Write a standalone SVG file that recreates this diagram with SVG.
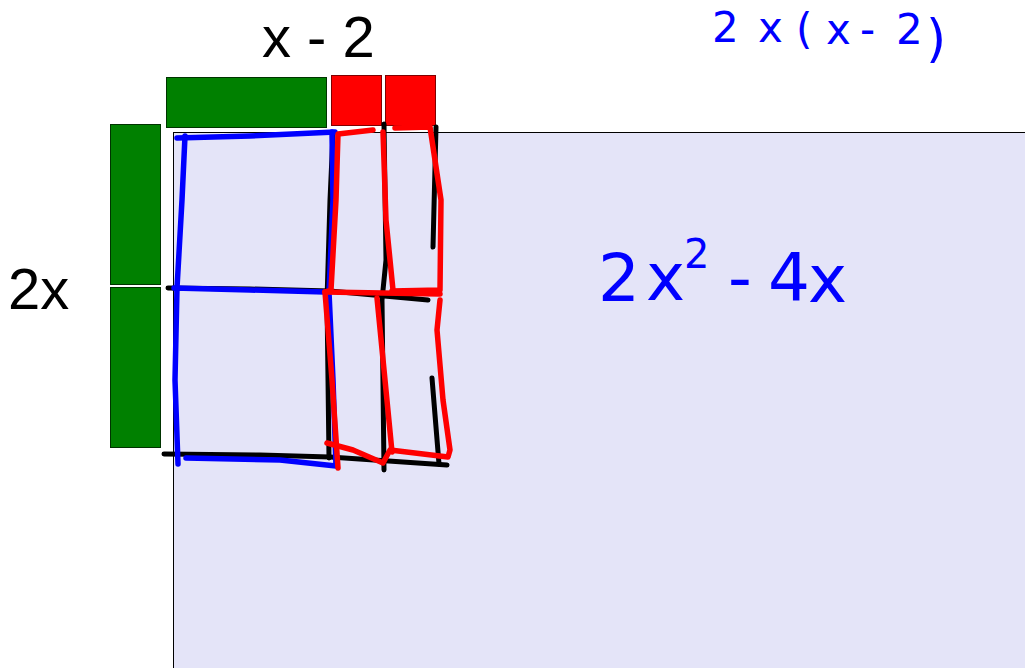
<svg xmlns="http://www.w3.org/2000/svg" width="1025" height="668" viewBox="0 0 1025 668">
<style>
.lbl{font-family:"Liberation Sans",Arial,sans-serif;fill:#000}
.ink{fill:none;stroke-linecap:round;stroke-linejoin:round}
.k{stroke:#000;stroke-width:5}
.b{stroke:#0000ff;stroke-width:5.5}
.r{stroke:#ff0000;stroke-width:5.5}
.hw{font-family:"DejaVu Sans","Liberation Sans",sans-serif;fill:#0000ff}
.g{fill:#008000;stroke:#003300;stroke-width:1}
.rd{fill:#ff0000;stroke:#800000;stroke-width:1}
</style>
<rect width="1025" height="668" fill="#ffffff"/>
<g id="mat">
<rect x="173.5" y="132.5" width="860" height="545" fill="#e4e4f8" stroke="#000" stroke-width="1"/>
</g>
<g id="label-top"><text class="lbl" x="262" y="57" font-size="58">x - 2</text></g>
<g id="label-left"><text class="lbl" x="8" y="309" font-size="58">2x</text></g>
<g id="tile-x-top"><rect class="g" x="166.5" y="77.5" width="160" height="50"/></g>
<g id="tile-neg1-a"><rect class="rd" x="331.5" y="75.5" width="50" height="50"/></g>
<g id="tile-neg1-b"><rect class="rd" x="385.5" y="75.5" width="50" height="50"/></g>
<g id="tile-x-left-a"><rect class="g" x="110.5" y="124.5" width="50" height="160"/></g>
<g id="tile-x-left-b"><rect class="g" x="110.5" y="287.5" width="50" height="160"/></g>
<g id="ink-black">
<path class="ink k" d="M168 288 L250 289 L330 291 L428 300"/>
<path class="ink k" d="M164 454 L260 455 L330 457 L447 465"/>
<path class="ink k" d="M333 134 L330 200 L327 300 L329 458"/>
<path class="ink k" d="M384 124 L386 260 L382 300 L384 470"/>
<path class="ink k" d="M436 127 L433 247"/>
<path class="ink k" d="M432 378 L439 464"/>
</g>
<g id="ink-blue">
<path class="ink b" d="M177 138 L250 136 L335 132"/>
<path class="ink b" d="M185 136 L182 200 L177 288 L175 380 L178 464"/>
<path class="ink b" d="M174 288 L250 290 L325 292"/>
<path class="ink b" d="M186 458 L280 460 L336 466 L333 380 L329 292 L333 200 L332 132"/>
</g>
<g id="ink-red">
<path class="ink r" d="M373 130 L338 134 L336 200 L331 290 L325 292"/>
<path class="ink r" d="M325 292 L440 294"/>
<path class="ink r" d="M383 132 L386 220 L393 290"/>
<path class="ink r" d="M395 128 L430 127 L441 200 L440 290 L392 291"/>
<path class="ink r" d="M325 292 L332 380 L338 468"/>
<path class="ink r" d="M327 443 L353 450 L383 463 L390 450 L448 457 L450 450 L443 400 L437 330 L440 300"/>
<path class="ink r" d="M377 298 L385 380 L392 452"/>
</g>
<g id="handwriting-top">
<text class="hw" font-size="42"><tspan x="712" y="42">2</tspan><tspan x="758" y="42">x</tspan><tspan x="796" y="44">(</tspan><tspan x="826" y="44">x</tspan><tspan x="860" y="44">-</tspan><tspan x="896" y="44">2</tspan><tspan x="926" y="56" font-size="52">)</tspan></text>
</g>
<g id="handwriting-mid">
<text class="hw" font-size="66"><tspan x="598" y="301">2</tspan><tspan x="646" y="300">x</tspan><tspan x="684" y="268" font-size="40">2</tspan><tspan x="728" y="300">-</tspan><tspan x="768" y="300">4</tspan><tspan x="808" y="302">x</tspan></text>
</g>
</svg>
